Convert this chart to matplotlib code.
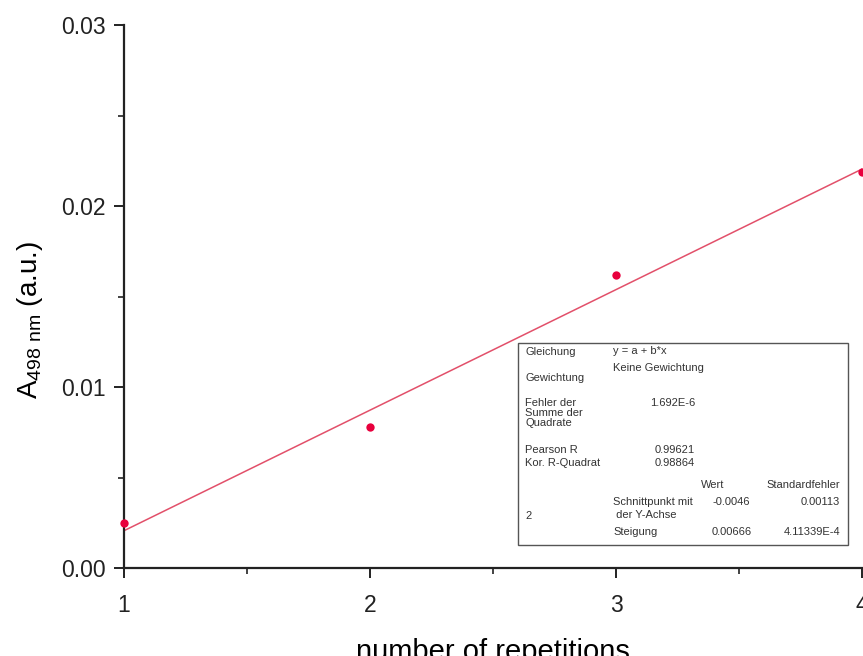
import matplotlib
matplotlib.use("Agg")
import matplotlib.pyplot as plt
from matplotlib.ticker import MultipleLocator
from matplotlib.patches import Rectangle

plt.rcParams['font.family'] = ['Liberation Sans', 'DejaVu Sans']
plt.rcParams['mathtext.default'] = 'regular'

# measured data
repetitions = [1, 2, 3, 4]
absorbance = [0.0025, 0.0078, 0.0162, 0.0219]

# linear fit parameters (from the fit table)
intercept = -0.0046
slope = 0.00666

# fit table contents: (text, x_px, y_px, ha)
table_texts = [
    ("Gleichung", 525, 352, 'left'),
    ("y = a + b*x", 613, 351, 'left'),
    ("Keine Gewichtung", 613, 368, 'left'),
    ("Gewichtung", 525, 378, 'left'),
    ("Fehler der", 525, 403, 'left'),
    ("Summe der", 525, 413, 'left'),
    ("Quadrate", 525, 423, 'left'),
    ("1.692E-6", 695, 403, 'right'),
    ("Pearson R", 525, 450, 'left'),
    ("0.99621", 695, 450, 'right'),
    ("Kor. R-Quadrat", 525, 463, 'left'),
    ("0.98864", 695, 463, 'right'),
    ("Wert", 713, 485, 'center'),
    ("Standardfehler", 840, 485, 'right'),
    ("Schnittpunkt mit", 613, 502, 'left'),
    ("-0.0046", 750, 502, 'right'),
    ("0.00113", 840, 502, 'right'),
    (" der Y-Achse", 613, 515, 'left'),
    ("2", 525, 516, 'left'),
    ("Steigung", 613, 532, 'left'),
    ("0.00666", 752, 532, 'right'),
    ("4.11339E-4", 840, 532, 'right'),
]

W, H = 863, 656
fig = plt.figure(figsize=(W / 100, H / 100), dpi=100)
ax = fig.add_axes([124 / W, (H - 568) / H, (862 - 124) / W, 543 / H])

fit_x = [repetitions[0], repetitions[-1]]
fit_y = [intercept + slope * x for x in fit_x]
ax.plot(fit_x, fit_y, color='#e2506a', lw=1.1, zorder=2)
ax.plot(repetitions, absorbance, 'o', color='#e8003d', ms=6, mec='none',
        clip_on=False, zorder=3)

ax.set_xlim(1, 4)
ax.set_ylim(0, 0.03)
ax.xaxis.set_major_locator(MultipleLocator(1))
ax.xaxis.set_minor_locator(MultipleLocator(0.5))
ax.yaxis.set_major_locator(MultipleLocator(0.01))
ax.yaxis.set_minor_locator(MultipleLocator(0.005))
ax.yaxis.set_major_formatter(matplotlib.ticker.FormatStrFormatter('%.2f'))

for s in ['top', 'right']:
    ax.spines[s].set_visible(False)
for s in ['left', 'bottom']:
    ax.spines[s].set_linewidth(1.6)
    ax.spines[s].set_color('#222222')

ax.tick_params(which='major', direction='out', length=7, width=1.4,
               labelsize=16.5, pad=6, colors='#222222')
ax.tick_params(which='minor', direction='out', length=4, width=1.2, colors='#222222')
ax.tick_params(axis='x', which='major', pad=12)

ax.set_xlabel('number of repetitions', fontsize=21, labelpad=15)
ax.set_ylabel(r'A$_{498\ nm}$ (a.u.)', fontsize=20)
ax.yaxis.set_label_coords(-0.107, 0.457)


def fx(px):
    return px / W


def fy(py):
    return 1 - py / H


# fit table
fig.patches.append(Rectangle((fx(518), fy(545)), fx(848) - fx(518), fy(343) - fy(545),
                             transform=fig.transFigure, facecolor='white',
                             edgecolor='#555555', lw=1.0, zorder=5))
grid_color = '#cfcfcf'
fig.add_artist(plt.Line2D([fx(610), fx(610)], [fy(345), fy(543)], color=grid_color, lw=0.8))
fig.add_artist(plt.Line2D([fx(756), fx(756)], [fy(345), fy(543)], color=grid_color, lw=0.8))
for y0, x0, x1 in [(360, 610, 846), (394, 520, 846), (437, 520, 846),
                   (456, 520, 700), (471, 520, 846), (494, 520, 846),
                   (522, 610, 846)]:
    fig.add_artist(plt.Line2D([fx(x0), fx(x1)], [fy(y0), fy(y0)], color=grid_color, lw=0.8))

for txt, px, py, ha in table_texts:
    fig.text(fx(px), fy(py), txt, fontsize=8, ha=ha, va='center', color='#333333', zorder=6)

fig.savefig('out.png', dpi=100)
